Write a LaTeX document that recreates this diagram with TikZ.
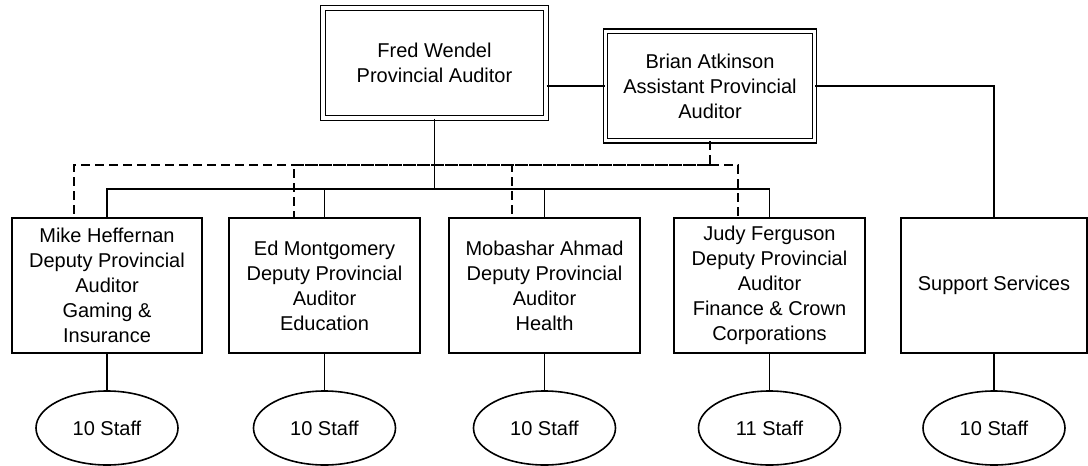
\documentclass[tikz,border=0pt]{standalone}
\usepackage{fontspec}
\setmainfont{Liberation Sans}
\usetikzlibrary{shapes.geometric}
\begin{document}
\begin{tikzpicture}[x=1pt,y=-1pt,
  txt/.style={font=\fontsize{20}{25}\selectfont, align=center, inner sep=0pt},
  topbox/.style={txt, draw, line width=1.3pt, double=white, double distance=3.2pt},
  depbox/.style={txt, draw, line width=1.6pt, minimum width=#1, minimum height=135pt},
  staff/.style={txt, draw, ellipse, line width=1.6pt, minimum width=142pt, minimum height=74pt},
  conn/.style={line width=1.6pt},
  dconn/.style={line width=1.6pt, dash pattern=on 9pt off 5pt}]
\useasboundingbox (0,0) rectangle (1088,466);
% top boxes
\node[topbox, minimum width=223pt, minimum height=110pt] (fred) at (434.5,63) {Fred Wendel\\Provincial Auditor};
\node[topbox, minimum width=209pt, minimum height=109.5pt] (brian) at (710,86) {Brian Atkinson\\Assistant Provincial\\Auditor};
% deputy boxes
\node[depbox=190pt] (mike) at (107,285.5) {Mike Heffernan\\Deputy Provincial\\Auditor\\Gaming \&\\Insurance};
\node[depbox=191pt] (ed) at (324.5,285.5) {Ed Montgomery\\Deputy Provincial\\Auditor\\Education};
\node[depbox=191pt] (mob) at (544.5,285.5) {Mobashar Ahmad\\Deputy Provincial\\Auditor\\Health};
\node[depbox=191pt] (judy) at (769.5,285.5) {Judy Ferguson\\Deputy Provincial\\Auditor\\Finance \& Crown\\Corporations};
\node[depbox=186pt] (supp) at (994,285.5) {Support Services};
% staff ellipses
\node[staff] (s1) at (107,428) {10 Staff};
\node[staff] (s2) at (324.5,428) {10 Staff};
\node[staff] (s3) at (544.5,428) {10 Staff};
\node[staff] (s4) at (769.5,428) {11 Staff};
\node[staff] (s5) at (994,428) {10 Staff};
% junction coordinates
\coordinate (sj) at (434.5,189);
\coordinate (dj) at (710,165);
% solid connectors
\draw[conn] (fred.east |- brian.west) -- (brian.west);
\draw[conn] (brian.east) -| (supp.north);
\draw[conn] (fred.south) -- (sj) -| (mike.north);
\draw[conn] (sj) -| (ed.north);
\draw[conn] (sj) -| (mob.north);
\draw[conn] (sj) -| (judy.north);
\foreach \b/\s in {mike/s1, ed/s2, mob/s3, judy/s4, supp/s5}
  \draw[conn] (\b.south) -- (\s.north);
% dashed connectors
\draw[dconn] (brian.south) -- (dj) -| ([xshift=-33pt]mike.north);
\draw[dconn] (dj) -| ([xshift=-30.5pt]ed.north);
\draw[dconn] (dj) -| ([xshift=-32.5pt]mob.north);
\draw[dconn] (dj) -| ([xshift=-31.5pt]judy.north);
\end{tikzpicture}
\end{document}
